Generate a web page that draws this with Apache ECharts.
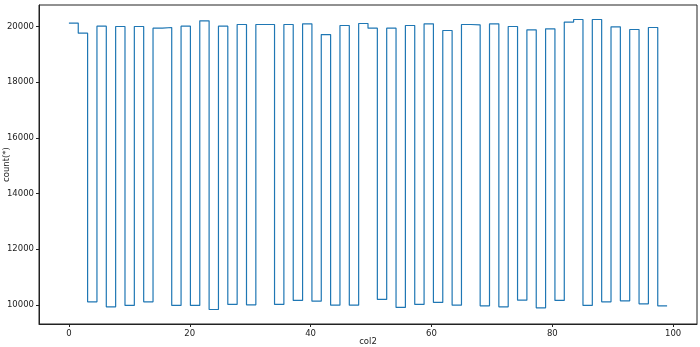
<!DOCTYPE html>
<html>
<head>
<meta charset="utf-8">
<script src="https://cdn.jsdelivr.net/npm/echarts@6/dist/echarts.min.js"></script>
<style>
html,body{margin:0;padding:0;background:#fff;}
#chart{width:700px;height:347px;}
</style>
</head>
<body>
<div id="chart"></div>
<script>
// Histogram of col2: 64 bins over [0, 99]
const binRange = [0, 99];
const counts = [
  20122, 19762, 10108, 20012, 9928, 20000, 9978, 20000, 10108, 19940,
  19964, 9978, 20012, 9978, 20205, 9833, 20012, 10014, 20072, 10000,
  20072, 20072, 10014, 20072, 10158, 20097, 10133, 19712, 9989, 20036,
  9989, 20108, 19940, 10194, 19940, 9906, 20036, 10014, 20097, 10086,
  19856, 9989, 20072, 20061, 9964, 20097, 9928, 20000, 10169, 19880,
  9892, 19917, 10158, 20158, 20252, 9978, 20252, 10108, 19989, 10144,
  19892, 10036, 19964, 9964
];
const xTicks = [0, 20, 40, 60, 80, 100];
const yTicks = [10000, 12000, 14000, 16000, 18000, 20000];
const xName = 'col2';
const yName = 'count(*)';

// bin edges derived from range and bin count
const nBins = counts.length;
const edges = [];
for (let i = 0; i <= nBins; i++) edges.push(binRange[0] + (binRange[1] - binRange[0]) * i / nBins);
const stepData = [];
for (let i = 0; i < nBins; i++) stepData.push([edges[i], counts[i]]);
stepData.push([edges[nBins], counts[nBins - 1]]);

// matplotlib-like 5% margins
const xSpan = binRange[1] - binRange[0];
const yMinD = Math.min(...counts), yMaxD = Math.max(...counts);
const ySpan = yMaxD - yMinD;

const font = 'DejaVu Sans';
const txt = '#222';
const fs = 8.5;
const chart = echarts.init(document.getElementById('chart'), null, {renderer: 'canvas'});
chart.setOption({
  animation: false,
  grid: {left: 39, right: 3, top: 5, bottom: 23, show: true, borderColor: '#222', borderWidth: 1,
         backgroundColor: 'transparent', containLabel: false, outerBoundsMode: 'none'},
  xAxis: {
    type: 'value',
    min: binRange[0] - 0.05 * xSpan,
    max: binRange[1] + 0.05 * xSpan,
    name: xName, nameLocation: 'middle', nameGap: 13, nameMoveOverlap: false,
    nameTextStyle: {fontFamily: font, fontSize: fs, color: txt},
    axisLine: {show: true, onZero: false, lineStyle: {color: '#222', width: 1}},
    axisTick: {show: true, customValues: xTicks, length: 3, lineStyle: {color: '#222'}},
    axisLabel: {customValues: xTicks, fontFamily: font, fontSize: fs, color: txt, margin: 5,
                formatter: v => String(v)},
    splitLine: {show: false}
  },
  yAxis: {
    type: 'value',
    min: yMinD - 0.05 * ySpan,
    max: yMaxD + 0.05 * ySpan,
    name: yName, nameLocation: 'middle', nameGap: 28, nameRotate: 90, nameMoveOverlap: false,
    nameTextStyle: {fontFamily: font, fontSize: fs, color: txt},
    axisLine: {show: true, onZero: false, lineStyle: {color: '#222', width: 1}},
    axisTick: {show: true, customValues: yTicks, length: 3, lineStyle: {color: '#222'}},
    axisLabel: {customValues: yTicks, fontFamily: font, fontSize: fs, color: txt, margin: 5,
                formatter: v => String(v)},
    splitLine: {show: false}
  },
  series: [{
    type: 'line',
    step: 'end',
    data: stepData,
    showSymbol: false,
    lineStyle: {color: '#1f77b4', width: 1.2},
    itemStyle: {color: '#1f77b4'}
  }]
});
</script>
</body>
</html>
